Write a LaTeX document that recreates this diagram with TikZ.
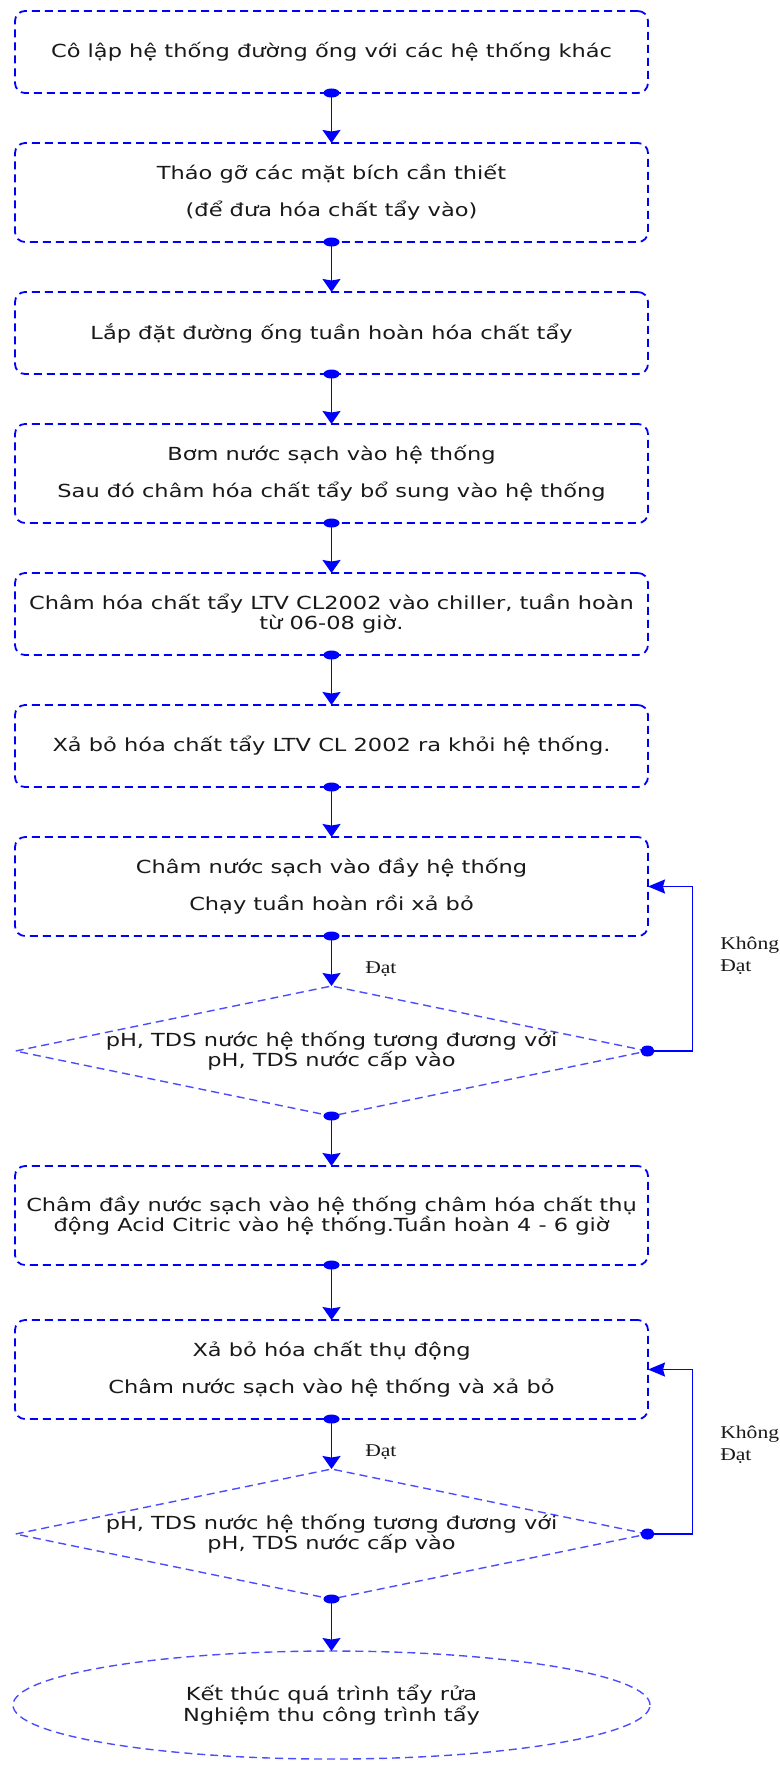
\documentclass[tikz,border=0pt]{standalone}
\usepackage{fontspec}
\setmainfont{DejaVu Sans}[FakeStretch=1.25]
\newfontfamily\notefont{Liberation Serif}[FakeStretch=1.2]
\usepackage{xcolor}
\usetikzlibrary{shapes,arrows.meta,positioning,calc}
\tikzstyle{stepbox} = [draw=blue, line width=1.8bp, dash pattern=on 8bp off 5bp,
    rectangle, rounded corners=10bp, minimum width=633bp, minimum height=82bp, outer sep=0pt,
    align=center, text=black!90, font=\fontsize{18bp}{20bp}\selectfont]
\tikzstyle{tallbox} = [stepbox, minimum height=99bp]
\tikzstyle{check} = [draw=blue!70, line width=1.4bp, dash pattern=on 8bp off 5bp,
    diamond, aspect=4.86, minimum width=632bp, minimum height=130bp, outer sep=0pt,
    inner xsep=-60bp, inner ysep=0pt,
    align=center, text=black!90, font=\fontsize{18bp}{20bp}\selectfont]
\tikzstyle{finish} = [draw=blue!70, line width=1.4bp, dash pattern=on 8bp off 5bp,
    ellipse, minimum width=637bp, minimum height=108bp, outer sep=0pt,
    align=center, text=black!90, font=\fontsize{18bp}{19bp}\selectfont]
\tikzstyle{note} = [inner sep=0pt, align=left, text=black!90,
    font=\notefont\fontsize{18bp}{22bp}\selectfont]
\tikzstyle{connector} = [{Circle[length=9bp,width=16bp]}-{Stealth[length=13bp,width=18bp,inset=1.5bp]},
    draw=blue, line width=1.6bp, shorten <=-4.5bp]
\tikzstyle{loopback} = [{Circle[length=14bp,width=11bp]}-{Stealth[length=17bp,width=14bp,inset=2bp]},
    draw=blue, line width=1.6bp, shorten <=-7bp]

\begin{document}
\begin{tikzpicture}[x=1bp,y=1bp]
		\useasboundingbox (0,0) rectangle (780,-1769);
		\node[stepbox] (isolate) at (331.5,-52) {Cô lập hệ thống đường ống với các hệ thống khác};
		\node[tallbox, below=50bp of isolate] (flange) {Tháo gỡ các mặt bích cần thiết\\[17bp](để đưa hóa chất tẩy vào)};
		\node[stepbox, below=50bp of flange] (piping) {Lắp đặt đường ống tuần hoàn hóa chất tẩy};
		\node[tallbox, below=50bp of piping] (fill) {Bơm nước sạch vào hệ thống\\[17bp]Sau đó châm hóa chất tẩy bổ sung vào hệ thống};
		\node[stepbox, below=50bp of fill] (dose) {Châm hóa chất tẩy LTV CL2002 vào chiller, tuần hoàn\\từ 06-08 giờ.};
		\node[stepbox, below=50bp of dose] (drain) {Xả bỏ hóa chất tẩy LTV CL 2002 ra khỏi hệ thống.};
		\node[tallbox, below=50bp of drain] (rinse) {Châm nước sạch vào đầy hệ thống\\[17bp]Chạy tuần hoàn rồi xả bỏ};
		\node[check, below=50bp of rinse] (check1) {pH, TDS nước hệ thống tương đương với\\pH, TDS nước cấp vào};
		\node[tallbox, below=50bp of check1] (passivate) {Châm đầy nước sạch vào hệ thống châm hóa chất thụ\\động Acid Citric vào hệ thống.Tuần hoàn 4 - 6 giờ};
		\node[tallbox, below=55bp of passivate] (flush) {Xả bỏ hóa chất thụ động\\[17bp]Châm nước sạch vào hệ thống và xả bỏ};
		\node[check, below=50bp of flush] (check2) {pH, TDS nước hệ thống tương đương với\\pH, TDS nước cấp vào};
		\node[finish, below=52bp of check2] (done) {Kết thúc quá trình tẩy rửa\\Nghiệm thu công trình tẩy};

		\draw[connector] (isolate) -- (flange);
		\draw[connector] (flange) -- (piping);
		\draw[connector] (piping) -- (fill);
		\draw[connector] (fill) -- (dose);
		\draw[connector] (dose) -- (drain);
		\draw[connector] (drain) -- (rinse);
		\draw[connector] (rinse) -- node[note, pos=0.66, right=33bp] {Đạt} (check1);
		\draw[loopback] (check1.east) -- ++(45,0) |- node[note, pos=0.29, right=27bp] {Không\\Đạt} (rinse.east);
		\draw[connector] (check1) -- (passivate);
		\draw[connector] (passivate) -- (flush);
		\draw[connector] (flush) -- node[note, pos=0.66, right=33bp] {Đạt} (check2);
		\draw[loopback] (check2.east) -- ++(45,0) |- node[note, pos=0.27, right=27bp] {Không\\Đạt} (flush.east);
		\draw[connector] (check2) -- (done);
	\end{tikzpicture}
\end{document}
